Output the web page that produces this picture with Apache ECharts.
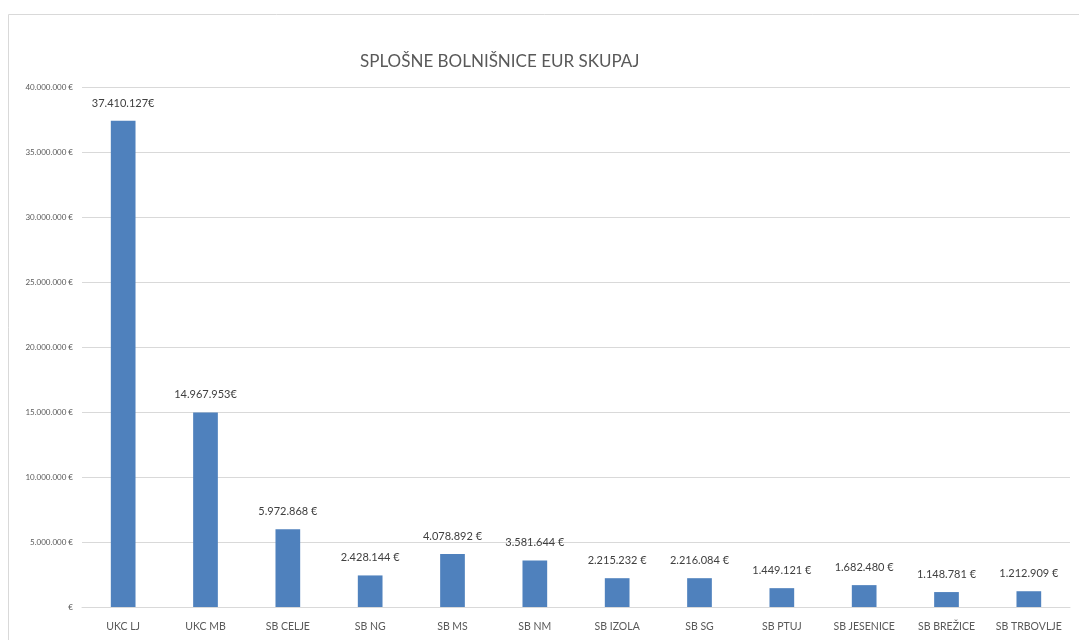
<!DOCTYPE html>
<html>
<head>
<meta charset="utf-8">
<script src="https://cdn.jsdelivr.net/npm/echarts@6/dist/echarts.min.js"></script>
<style>
  html, body { margin: 0; padding: 0; background: #fff; }
  #chart { width: 1079px; height: 640px; }
</style>
</head>
<body>
<div id="chart"></div>
<script>
// hospitals (categories)
const hospitals = ['UKC LJ', 'UKC MB', 'SB CELJE', 'SB NG', 'SB MS', 'SB NM',
  'SB IZOLA', 'SB SG', 'SB PTUJ', 'SB JESENICE', 'SB BREŽICE', 'SB TRBOVLJE'];
// total EUR per hospital
const totals = [37410127, 14967953, 5972868, 2428144, 4078892, 3581644,
  2215232, 2216084, 1449121, 1682480, 1148781, 1212909];
// data label text as shown on the chart
const valueLabels = ['37.410.127€', '14.967.953€', '5.972.868 €', '2.428.144 €', '4.078.892 €', '3.581.644 €',
  '2.215.232 €', '2.216.084 €', '1.449.121 €', '1.682.480 €', '1.148.781 €', '1.212.909 €'];

const fmt = (v) => {
  if (v === 0) return '€';
  return String(v).replace(/\B(?=(\d{3})+(?!\d))/g, '.') + ' €';
};

const chart = echarts.init(document.getElementById('chart'));
chart.setOption({
  animation: false,
  textStyle: { fontFamily: 'Lato, sans-serif' },
  graphic: [{
    type: 'rect',
    shape: { x: 8.5, y: 14.5, width: 1200, height: 700 },
    style: { fill: 'none', stroke: '#d9d9d9', lineWidth: 1 },
    silent: true
  }],
  title: {
    text: 'SPLOŠNE BOLNIŠNICE EUR SKUPAJ',
    left: 355,
    top: 48,
    textStyle: { fontSize: 17, fontWeight: 'normal', color: '#595959', fontFamily: 'Lato, sans-serif' }
  },
  grid: { left: 82, right: 9, top: 87, bottom: 33, containLabel: false },
  xAxis: {
    type: 'category',
    data: hospitals,
    axisLine: { lineStyle: { color: '#d9d9d9', width: 1 } },
    axisTick: { show: false },
    axisLabel: { color: '#595959', fontSize: 10.5, margin: 14, interval: 0 }
  },
  yAxis: {
    type: 'value',
    min: 0,
    max: 40000000,
    interval: 5000000,
    axisLine: { show: false },
    axisTick: { show: false },
    splitLine: { lineStyle: { color: '#d9d9d9', width: 1 } },
    axisLabel: { color: '#595959', fontSize: 8, margin: 9, formatter: fmt }
  },
  series: [{
    type: 'bar',
    data: totals,
    barWidth: '30%',
    itemStyle: { color: '#4f81bd' },
    label: {
      show: true,
      position: 'top',
      distance: 12,
      color: '#404040',
      fontSize: 11,
      formatter: (p) => valueLabels[p.dataIndex]
    }
  }]
});
</script>
</body>
</html>
